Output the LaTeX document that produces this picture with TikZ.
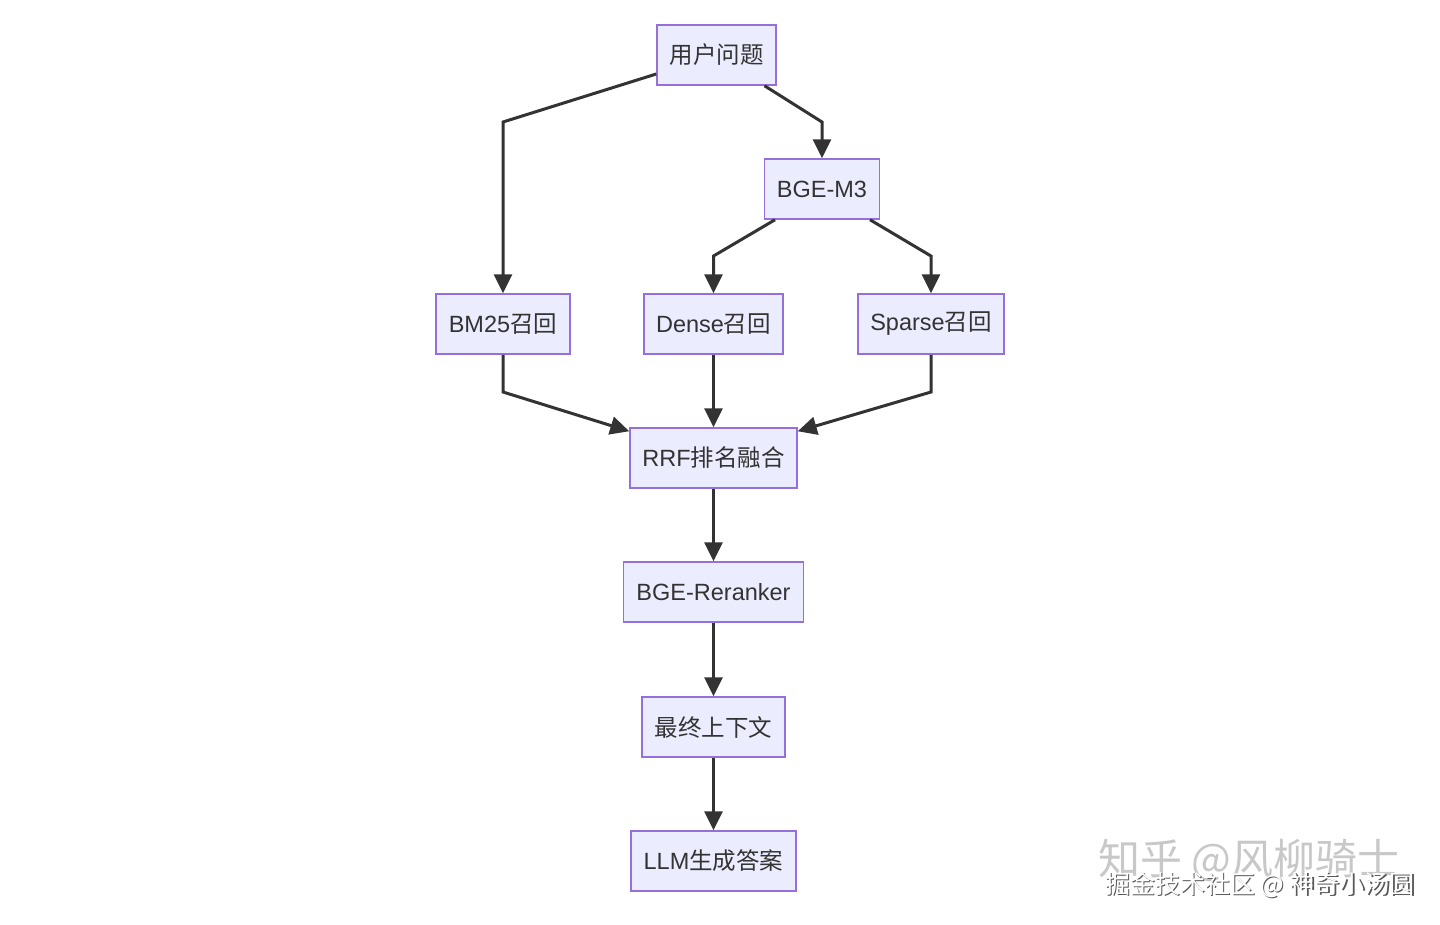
\documentclass[tikz,border=0pt]{standalone}
\usepackage{fontspec}
\setmainfont{Liberation Sans}
\newfontfamily\cjk{Noto Sans CJK SC}
\usetikzlibrary{arrows.meta,calc}
\definecolor{boxfill}{HTML}{ECECFF}
\definecolor{boxline}{HTML}{9370DB}
\definecolor{ink}{HTML}{333333}
\definecolor{wm}{HTML}{C8C8C8}
\begin{document}
\begin{tikzpicture}[x=1pt,y=-1pt,
  box/.style={draw=boxline,fill=boxfill,line width=1.5pt,minimum height=60pt,inner sep=0pt,text=ink,font=\fontsize{23.5}{28}\selectfont},
  arr/.style={draw=ink,line width=3pt,-{Triangle[length=19pt,width=18pt]}}]
\useasboundingbox[fill=white] (0,0) rectangle (1440,924);
\node[box,minimum width=119pt] (q) at (716.5,55) {\cjk 用户问题};
\node[box,minimum width=115pt] (m3) at (822,189) {BGE-M3};
\node[box,minimum width=134pt] (bm) at (503,324) {BM25{\cjk 召回}};
\node[box,minimum width=139pt] (dn) at (713.5,324) {Dense{\cjk 召回}};
\node[box,minimum width=146pt] (sp) at (931,324) {Sparse{\cjk 召回}};
\node[box,minimum width=167pt] (rrf) at (713.5,458) {RRF{\cjk 排名融合}};
\node[box,minimum width=180pt] (rr) at (713.5,592) {BGE-Reranker};
\node[box,minimum width=143pt] (ctx) at (713.5,727) {\cjk 最终上下文};
\node[box,minimum width=165pt] (llm) at (713.5,861) {LLM{\cjk 生成答案}};
\draw[arr] ([yshift=-19pt]q.west) -- (bm.north |- 0,122) -- (bm.north);
\draw[arr] ([xshift=48pt]q.south) -- (m3.north |- 0,122) -- (m3.north);
\draw[arr] ([xshift=-47pt]m3.south) -- (dn.north |- 0,256) -- (dn.north);
\draw[arr] ([xshift=48pt]m3.south) -- (sp.north |- 0,256) -- (sp.north);
\draw[arr] (bm.south) -- (bm.south |- 0,392) -- ([yshift=-4pt]rrf.north west);
\draw[arr] (dn.south) -- (rrf.north);
\draw[arr] (sp.south) -- (sp.south |- 0,392) -- ([yshift=-4pt]rrf.north east);
\draw[arr] (rrf.south) -- (rr.north);
\draw[arr] (rr.south) -- (ctx.north);
\draw[arr] (ctx.south) -- (llm.north);
\node[text=wm,font=\cjk\fontsize{42}{44}\selectfont,inner sep=0pt] (wm1) at (1249,860) {知乎 @风柳骑士};
\node[text=gray!70!black,font=\cjk\fontsize{25}{28}\selectfont,inner sep=0pt] (wm2s) at (1261.2,886.2) {掘金技术社区 @ 神奇小汤圆};
\node[text=white,font=\cjk\fontsize{25}{28}\selectfont,inner sep=0pt] (wm2) at (1260,885) {掘金技术社区 @ 神奇小汤圆};
\end{tikzpicture}
\end{document}
